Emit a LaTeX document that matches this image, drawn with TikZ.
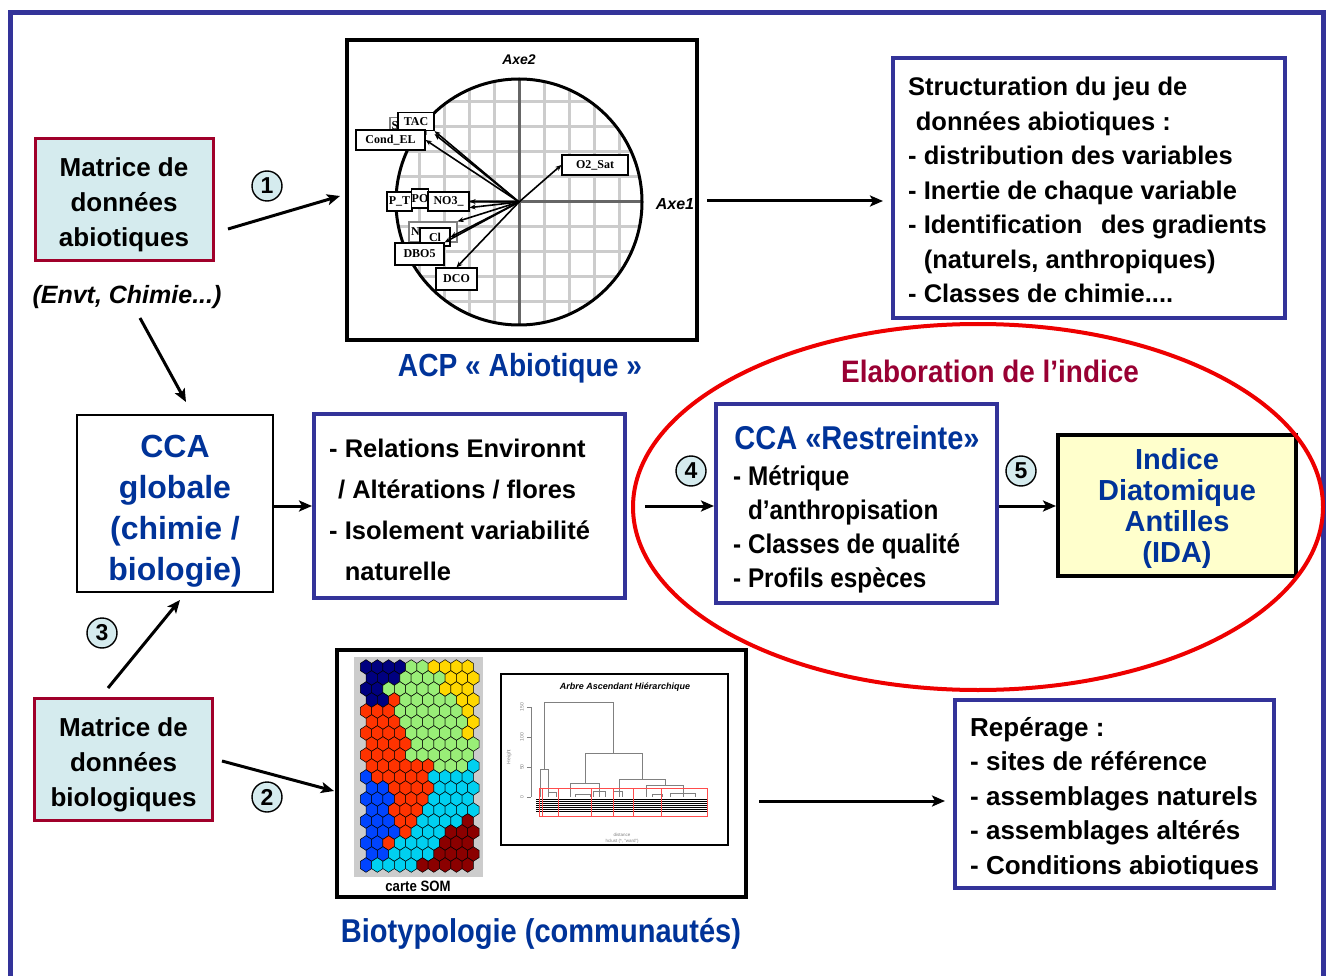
\documentclass[tikz,border=0pt]{standalone}
\usepackage{fontspec}
\setmainfont{Liberation Sans}
\newfontfamily\narrowfont[FakeStretch=0.9]{Liberation Sans}
\newfontfamily\midfont[FakeStretch=0.88]{Liberation Sans}
\newfontfamily\lblfont{Liberation Serif}
\usetikzlibrary{arrows.meta,shapes.geometric}
\definecolor{frameblue}{HTML}{333399}
\definecolor{txtblue}{HTML}{003399}
\definecolor{matred}{HTML}{A0002A}
\definecolor{matfill}{HTML}{D5EBEE}
\definecolor{elabred}{HTML}{990033}
\definecolor{idafill}{HTML}{FFFFCC}
\definecolor{ellred}{HTML}{EE0000}
\definecolor{gridgray}{HTML}{CCCCCC}
\definecolor{axisgray}{HTML}{666666}
\definecolor{hB}{HTML}{000080}
\definecolor{hG}{HTML}{99EE77}
\definecolor{hY}{HTML}{FFD700}
\definecolor{hR}{HTML}{FF3300}
\definecolor{hL}{HTML}{0044FF}
\definecolor{hC}{HTML}{00D0F0}
\definecolor{hM}{HTML}{8B0000}
\tikzset{
  arr/.style={line width=3pt, -{Stealth[length=13pt,width=11pt,inset=3pt]}},
  matbox/.style={draw=matred, line width=3pt, fill=matfill, minimum width=178pt, minimum height=122pt},
  mattext/.style={align=center, font=\fontsize{26}{35}\selectfont\bfseries},
  bluebox/.style={draw=frameblue, line width=4pt, fill=white},
  boxtext/.style={anchor=north west, align=left, font=\fontsize{26}{34.5}\selectfont\bfseries},
  numc/.style={circle, draw=black, line width=1.4pt, fill=matfill, minimum size=30pt, font=\fontsize{23}{23}\selectfont\bfseries},
  lbl/.style={draw=black, fill=white, line width=1.2pt, font=\lblfont\fontsize{12}{12}\selectfont\bfseries},
  acparr/.style={line width=1.6pt, -{Stealth[length=6pt,width=5pt]}},
  dend/.style={draw=gray, line width=0.7pt},
}
\begin{document}
\begin{tikzpicture}[x=1pt,y=-1pt, every node/.append style={inner sep=0pt}]
\useasboundingbox (0,0) rectangle (1328,976);
\fill[white] (0,0) rectangle (1328,976);
\draw[frameblue, line width=5pt] (10,990) -- (10,13) -- (1323,13) -- (1323,990);

% ---- left column
\node[matbox] (matA) at (124,200) {};
\node[mattext] (matAtxt) at (124,205) {Matrice de\\données\\abiotiques};
\node[font=\fontsize{25}{25}\selectfont\bfseries\itshape] (envt) at (127,297) {(Envt, Chimie...)};
\node[matbox] (matB) at (123.5,759.5) {};
\node[mattext] (matBtxt) at (123.5,764.5) {Matrice de\\données\\biologiques};

% ---- ACP box
\node[draw=black, line width=4pt, minimum width=350pt, minimum height=300pt] (acp) at (522,190) {};
\coordinate (acpc) at (519,202);
\begin{scope}
  \clip (acpc) circle (123);
  \foreach \d in {-125,-100,-75,-50,-25,25,50,75,100,125} {
    \draw[gridgray, line width=3pt] (519+\d,70) -- (519+\d,335);
    \draw[gridgray, line width=3pt] (390,202+\d) -- (650,202+\d);
  }
\end{scope}
\draw[axisgray, line width=3pt] (396,202) -- (642,202);
\draw[axisgray, line width=3pt] (519,79) -- (519,325);
\draw[black, line width=3pt] (acpc) circle (123);
\node[font=\fontsize{14}{14}\selectfont\bfseries\itshape] (axe2) at (519,60) {Axe2};
\node[font=\fontsize{16}{16}\selectfont\bfseries\itshape] (axe1) at (675,204) {Axe1};
\node[lbl, draw=gray, minimum width=36pt, minimum height=17pt, text width=33pt, align=left] (so4) at (408,126) {S};
\node[lbl, minimum width=36pt, minimum height=18pt] (tac) at (416,121.5) {TAC};
\node[lbl, minimum width=69pt, minimum height=20pt] (cond) at (390.5,140) {Cond\_EL};
\node[lbl, minimum width=66pt, minimum height=20pt] (o2) at (595,165) {O2\_Sat};
\node[lbl, minimum width=25pt, minimum height=19pt] (pt) at (399.5,201.5) {P\_T};
\node[lbl, minimum width=17pt, minimum height=19pt] (po) at (420,198.5) {PO};
\node[lbl, minimum width=41pt, minimum height=19pt] (no3) at (448.5,201.5) {NO3\_};
\node[lbl, draw=gray, minimum width=48pt, minimum height=20pt, text width=44pt, align=left] (nh4) at (433,232) {N};
\node[lbl, minimum width=30pt, minimum height=18pt] (cl) at (435,237) {Cl};
\node[lbl, minimum width=49pt, minimum height=22pt] (dbo) at (419.5,254) {DBO5};
\node[lbl, minimum width=41pt, minimum height=22pt] (dco) at (456.5,279) {DCO};
\draw[acparr] (acpc) -- (tac.south east);
\draw[acparr] (acpc) -- ([yshift=-3pt]tac.south east);
\draw[acparr] (acpc) -- (cond.east);
\draw[acparr] (acpc) -- (o2.west);
\draw[acparr] (acpc) -- (no3.east);
\draw[acparr] (acpc) -- ([yshift=4pt]no3.south east);
\draw[acparr] (acpc) -- (nh4.north east);
\draw[acparr] (acpc) -- (cl.east);
\draw[acparr] (acpc) -- (dbo.north east);
\draw[acparr] (acpc) -- (dco.north);
\node[font=\midfont\fontsize{32}{32}\selectfont\bfseries, text=txtblue] (acpcap) at (520,368) {ACP « Abiotique »};

% ---- structuration box
\node[bluebox, minimum width=392pt, minimum height=260pt] (struct) at (1089,188) {};
\node[boxtext, font=\fontsize{25.5}{34.5}\selectfont\bfseries] (structtxt) at (908,77)
{Structuration du jeu de\\
\hspace*{0.3em}données abiotiques :\\
- distribution des variables\\
- Inertie de chaque variable\\
- Identification\hspace{0.45em} des gradients\\
\hphantom{- }(naturels, anthropiques)\\
- Classes de chimie....};

% ---- CCA globale & relations
\node[draw=black, line width=2pt, fill=white, minimum width=196pt, minimum height=177pt] (ccaG) at (175,503.5) {};
\node[align=center, text=txtblue, font=\fontsize{32}{41}\selectfont\bfseries] (ccaGtxt) at (175,511) {CCA\\globale\\(chimie /\\biologie)};
\node[bluebox, minimum width=311pt, minimum height=184pt] (rel) at (469.5,506) {};
\node[boxtext, font=\fontsize{25.5}{41}\selectfont\bfseries] (reltxt) at (329,439)
{- Relations Environnt\\
\hspace*{0.35em}/ Altérations / flores\\
- Isolement variabilité\\
\hphantom{- }naturelle};

% ---- index elaboration
\node[font=\narrowfont\fontsize{31}{31}\selectfont\bfseries, text=elabred] (elab) at (990,371) {Elaboration de l’indice};
\node[bluebox, minimum width=281pt, minimum height=199pt] (ccaR) at (856.5,503.5) {};
\node[font=\midfont\fontsize{33}{33}\selectfont\bfseries, text=txtblue] (ccaRh) at (857,438) {CCA «Restreinte»};
\node[boxtext, font=\narrowfont\fontsize{27}{34}\selectfont\bfseries] (ccaRtxt) at (733,465)
{- Métrique\\
\hphantom{- }d’anthropisation\\
- Classes de qualité\\
- Profils espèces};
\node[draw=black, line width=4pt, fill=idafill, minimum width=238pt, minimum height=141pt] (ida) at (1177,505.5) {};
\node[align=center, text=txtblue, font=\fontsize{29}{31}\selectfont\bfseries] (idatxt) at (1177,508.5) {Indice\\Diatomique\\Antilles\\(IDA)};
\node[draw=ellred, line width=4pt, ellipse, minimum width=690pt, minimum height=366pt] (ell) at (978,507) {};

% ---- SOM / dendrogram box
\node[draw=black, line width=4pt, minimum width=409pt, minimum height=247pt] (som) at (541.5,773.5) {};
\fill[gray!40] (354,657) rectangle (483,877);
\foreach \r/\cl in {
 0/{B,B,B,B,G,G,Y,Y,Y,Y},
 1/{B,B,B,G,G,G,G,Y,Y,Y},
 2/{B,B,G,G,G,G,G,Y,Y,Y},
 3/{B,B,R,G,G,G,G,G,Y,Y},
 4/{R,R,R,G,G,G,G,G,G,Y},
 5/{R,R,R,G,G,G,G,G,G,Y},
 6/{R,R,R,R,G,G,G,G,G,Y},
 7/{R,R,R,R,G,G,G,G,G,G},
 8/{R,R,R,R,G,G,G,G,G,G},
 9/{R,R,R,R,R,R,G,G,G,C},
 10/{L,R,R,R,R,R,C,C,C,C},
 11/{L,L,R,R,R,R,C,C,C,C},
 12/{L,L,L,R,R,R,C,C,C,C},
 13/{L,L,R,R,R,C,C,C,C,C},
 14/{L,L,L,R,R,C,C,C,C,M},
 15/{L,L,L,R,C,C,C,M,M,M},
 16/{L,L,R,C,C,C,C,M,M,M},
 17/{L,L,C,C,C,C,M,M,M,M},
 18/{L,C,C,C,C,M,M,M,M,M}} {
  \foreach \c [count=\k from 0] in \cl {
    \pgfmathsetmacro\hx{366+11.3*\k+5.65*mod(\r,2)}
    \pgfmathsetmacro\hy{667+11*\r}
    \filldraw[fill=h\c, draw=black, line width=0.5pt] (\hx,\hy-7.3) -- ++(5.65,3.65) -- ++(0,7.3) -- ++(-5.65,3.65) -- ++(-5.65,-3.65) -- ++(0,-7.3) -- cycle;
  }
}
\node[font=\midfont\fontsize{15}{15}\selectfont\bfseries] (somlbl) at (418,886) {carte SOM};
\node[draw=black, line width=1.5pt, minimum width=227pt, minimum height=171pt] (dendro) at (614.5,759.5) {};
\node[font=\fontsize{9}{9}\selectfont\bfseries\itshape] (dtitle) at (625,687) {Arbre Ascendant Hiérarchique};
\draw[gray, line width=0.6pt] (531,707) -- (531,797);
\foreach \yy/\t in {707/150,737/100,767/50,797/0} {
  \draw[gray, line width=0.6pt] (527,\yy) -- (531,\yy);
  \node[rotate=90, text=gray, font=\fontsize{5}{5}\selectfont] at (522,\yy) {\t};
}
\node[rotate=90, text=gray, font=\fontsize{5}{5}\selectfont] (hlab) at (509,757) {Height};
\draw[dend] (544,769) -- (544,702) -- (613,702) -- (613,753);
\draw[dend] (585,783) -- (585,753) -- (642,753) -- (642,779);
\draw[dend] (540,797) -- (540,769) -- (548,769) -- (548,797);
\draw[dend] (570,797) -- (570,783) -- (599,783) -- (599,797);
\draw[dend] (619,797) -- (619,779) -- (665,779) -- (665,785);
\draw[dend] (646,797) -- (646,785) -- (683,785) -- (683,797);
\draw[dend] (593,797) -- (593,791) -- (605,791) -- (605,797);
\draw[dend] (613,797) -- (613,791) -- (622,791) -- (622,797);
\draw[dend] (548,797) -- (548,792) -- (556,792) -- (556,797);
\draw[dend] (575,797) -- (575,794) -- (590,794) -- (590,797);
\draw[dend] (652,797) -- (652,794) -- (662,794) -- (662,797);
\draw[dend] (670,797) -- (670,793) -- (695,793) -- (695,797);
\foreach \yy in {799,801,...,811} \draw[black, line width=0.6pt] (536,\yy) -- (708,\yy);
\draw[red!70, line width=0.5pt] (539,788) rectangle (707,816);
\foreach \xx in {542,558,591,613,633,661} \draw[red!70, line width=0.5pt] (\xx,788) -- (\xx,816);
\node[text=gray, font=\fontsize{4.5}{4.5}\selectfont] (dist) at (622,835) {distance};
\node[text=gray, font=\fontsize{4.5}{4.5}\selectfont] (hcl) at (622,841) {hclust (*, "ward")};
\node[font=\midfont\fontsize{33}{33}\selectfont\bfseries, text=txtblue] (bio) at (541,934) {Biotypologie (communautés)};

% ---- reperage box
\node[bluebox, minimum width=319pt, minimum height=188pt] (rep) at (1114.5,794) {};
\node[boxtext] (reptxt) at (970,717)
{Repérage :\\
- sites de référence\\
- assemblages naturels\\
- assemblages altérés\\
- Conditions abiotiques};

% ---- numbered circles
\node[numc] (n1) at (267,186) {1};
\node[numc] (n2) at (267,797) {2};
\node[numc] (n3) at (102,633) {3};
\node[numc] (n4) at (691,471) {4};
\node[numc] (n5) at (1021,471) {5};

% ---- connectors
\coordinate (a1s) at (228,229);   \coordinate (a1e) at (340,196);
\coordinate (a2s) at (222,761);   \coordinate (a2e) at (334,791);
\coordinate (a3s) at (108,688);   \coordinate (a3e) at (180,600);
\coordinate (aes) at (140,318);   \coordinate (aee) at (186,402);
\coordinate (ass) at (707,201);   \coordinate (ase) at (883,201);
\coordinate (a4s) at (645,506);
\coordinate (ars) at (759,801);   \coordinate (are) at (945,801);
\draw[arr] (a1s) -- (a1e);
\draw[arr] (a2s) -- (a2e);
\draw[arr] (a3s) -- (a3e);
\draw[arr] (aes) -- (aee);
\draw[arr] (ass) -- (ase);
\draw[arr] (ccaG.east |- 0,506) -- (rel.west |- 0,506);
\draw[arr] (a4s) -- (ccaR.west |- a4s);
\draw[arr] (ccaR.east |- a4s) -- (ida.west |- a4s);
\draw[arr] (ars) -- (are);
\end{tikzpicture}
\end{document}
